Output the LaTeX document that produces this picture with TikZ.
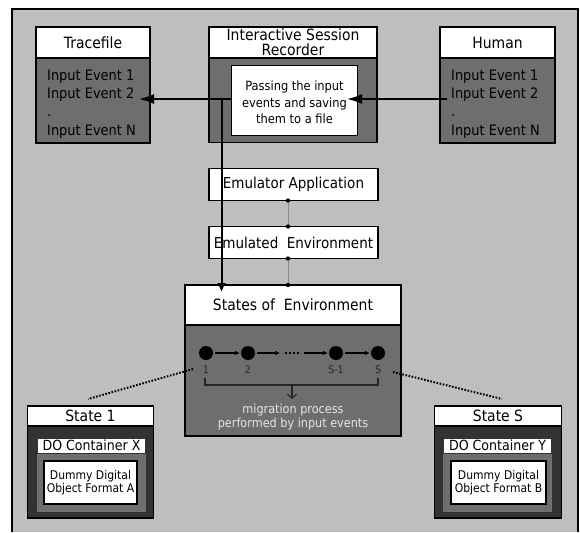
\documentclass[tikz,border=0pt]{standalone}
\usepackage{fontspec}
\setmainfont{DejaVu Sans}[FakeStretch=0.9]
\usetikzlibrary{arrows.meta}
\definecolor{frameg}{HTML}{BEBEBE}
\definecolor{midg}{HTML}{6E6E6E}
\definecolor{darkg}{HTML}{333333}
\definecolor{lightt}{HTML}{E6E6E6}
\definecolor{connc}{HTML}{8A8A8A}
\newcommand\hdrfont{\fontsize{15.5}{17}\selectfont}
\begin{document}
\begin{tikzpicture}[x=1pt,y=-1pt,
  box/.style={draw=black, line width=1.8pt, inner sep=0pt, outer sep=0pt},
  evt/.style={align=left, inner sep=0pt, font=\fontsize{14.4}{18.3}\selectfont},
  bigarr/.style={line width=1.8pt, -{Latex[length=15pt,width=10pt]}},
  varr/.style={line width=2pt, -{Latex[length=9pt,width=9pt]}},
  conn/.style={draw=connc, line width=0.8pt},
  chaindot/.style={circle, fill=black, minimum size=14pt, inner sep=0pt},
  lbl/.style={inner sep=0pt, text=black!85, font=\fontsize{10.5}{11}\selectfont},
  smarr/.style={line width=1.2pt, -{Latex[length=5pt,width=5pt]}, shorten <=2pt, shorten >=1pt},
  brk/.style={line width=1.2pt, draw=black!85},
  dotl/.style={line width=2pt, dash pattern=on 1.6pt off 1.6pt},
  mig/.style={align=center, inner sep=0pt, text=lightt, font=\fontsize{12.5}{14}\selectfont}
]
\useasboundingbox (0,0) rectangle (580,532);
\fill[frameg] (12,9) rectangle (578,532);
\draw[line width=2pt] (12,532) -- (12,9) -- (578,9) -- (578,532);

% Tracefile
\node[box, fill=midg, minimum width=114pt, minimum height=85pt] (traceb) at (93,100.5) {};
\node[box, fill=white, minimum width=114pt, minimum height=31pt, font=\hdrfont] (traceh) at (93,42.5) {Tracefile};
\node[evt, anchor=west] (tracet) at (47,104) {Input Event 1\\Input Event 2\\.\\Input Event N};

% Recorder
\node[box, fill=midg, minimum width=168pt, minimum height=84pt] (recb) at (293,100.5) {};
\node[box, fill=white, minimum width=168pt, minimum height=31pt, align=center, font=\fontsize{15.5}{15}\selectfont] (rech) at (293,42.5) {Interactive Session\\Recorder};
\node[box, line width=1.5pt, fill=white, minimum width=126pt, minimum height=70pt] (pass) at (294.5,100.5) {};
\node[align=center, inner sep=0pt, font=\fontsize{12.7}{16.7}\selectfont] (passt) at (294.5,102.5) {Passing the input\\events and saving\\them to a file};

% Human
\node[box, fill=midg, minimum width=115pt, minimum height=85pt] (humb) at (497.5,100.5) {};
\node[box, fill=white, minimum width=115pt, minimum height=31pt, font=\hdrfont] (humh) at (497.5,42.5) {Human};
\node[evt, anchor=west] (humt) at (451,104) {Input Event 1\\Input Event 2\\.\\Input Event N};

% Emulator boxes
\node[box, fill=white, minimum width=169pt, minimum height=32pt, font=\fontsize{15}{17}\selectfont] (emuapp) at (293.5,184.5) {Emulator Application};
\node[box, fill=white, minimum width=169pt, minimum height=32pt, font=\fontsize{15}{17}\selectfont] (emuenv) at (293.5,242.5) {Emulated~ Environment};

% States of Environment
\node[box, line width=2.5pt, fill=midg, minimum width=216pt, minimum height=111pt] (stateb) at (293,380.5) {};
\node[box, line width=2.5pt, fill=white, minimum width=216pt, minimum height=40pt, font=\hdrfont] (stateh) at (293,305) {States of~ Environment};

% connectors between emulator boxes
\draw[conn] ([xshift=-5.5pt]emuapp.south) -- ([xshift=-5.5pt]emuenv.north);
\draw[conn] ([xshift=-5.5pt]emuenv.south) -- ([xshift=-5pt]stateh.north);
\fill ([xshift=-5.5pt]emuapp.south) circle (2.2pt);
\fill ([xshift=-5.5pt]emuenv.north) circle (2.2pt);
\fill ([xshift=-5.5pt]emuenv.south) circle (2.2pt);
\fill ([xshift=-5pt]stateh.north) circle (2.2pt);

% chain of states
\node[chaindot] (s1) at (206,353) {};
\node[chaindot] (s2) at (248,353) {};
\node[chaindot] (s3) at (336,353) {};
\node[chaindot] (s4) at (378,353) {};
\node[lbl] (l1) at (206,370) {1};
\node[lbl] (l2) at (248,370) {2};
\node[lbl] (l3) at (336,370) {S-1};
\node[lbl] (l4) at (378,370) {S};
\coordinate (m1) at (281,353);
\coordinate (m2) at (285,353);
\coordinate (m3) at (300,353);
\coordinate (m4) at (302,353);
\draw[smarr] (s1) -- (s2);
\draw[smarr] (s2) -- (m1);
\draw[line width=1.6pt, dash pattern=on 1.6pt off 2.4pt] (m2) -- (m3);
\draw[smarr] (m4) -- (s3);
\draw[smarr] (s3) -- (s4);
\draw[brk] (205,378) -- (205,385) -- (378,385) -- (378,378);
\coordinate (b1) at (292,385);
\coordinate (b2) at (292,399);
\draw[brk, -{Straight Barb[length=4pt,width=9pt]}] (b1) -- (b2);
\node[mig] (migt) at (293,417) {migration process\\performed by input events};

% State 1
\node[box, line width=1.2pt, fill=darkg, minimum width=126pt, minimum height=92pt] (st1b) at (90.5,472) {};
\node[box, line width=1.2pt, fill=white, minimum width=126pt, minimum height=20pt, font=\hdrfont] (st1h) at (90.5,416) {State 1};
\node[box, draw=black!55, line width=1pt, fill=midg, minimum width=108pt, minimum height=58pt] (doxb) at (91.5,482) {};
\node[box, draw=darkg, line width=1pt, fill=white, minimum width=108pt, minimum height=15pt, font=\fontsize{14}{15}\selectfont] (doxh) at (91.5,445.5) {DO Container X};
\node[box, line width=2.5pt, fill=white, minimum width=93pt, minimum height=43pt, align=center, font=\fontsize{12}{13.3}\selectfont] (duma) at (90.5,482.5) {Dummy Digital\\Object Format A};

% State S
\node[box, line width=1.2pt, fill=darkg, minimum width=127pt, minimum height=92pt] (stsb) at (498,472) {};
\node[box, line width=1.2pt, fill=white, minimum width=127pt, minimum height=20pt, font=\hdrfont] (stsh) at (498,416) {State S};
\node[box, draw=black!55, line width=1pt, fill=midg, minimum width=108pt, minimum height=58pt] (doyb) at (497.5,482) {};
\node[box, draw=darkg, line width=1pt, fill=white, minimum width=108pt, minimum height=15pt, font=\fontsize{14}{15}\selectfont] (doyh) at (497.5,445.5) {DO Container Y};
\node[box, line width=2.5pt, fill=white, minimum width=95pt, minimum height=43pt, align=center, font=\fontsize{12}{13.3}\selectfont] (dumb) at (498.5,482.5) {Dummy Digital\\Object Format B};

% dotted links
\coordinate (dl1) at (193,369);
\coordinate (dl2) at (88,399);
\coordinate (dr1) at (393,372);
\coordinate (dr2) at (502,399);
\draw[dotl] (dl1) -- (dl2);
\draw[dotl] (dr1) -- (dr2);

% main arrows
\coordinate (tin) at (139,99);
\coordinate (pout) at (231,99);
\coordinate (hout) at (447,99);
\coordinate (pin) at (347,99);
\coordinate (split) at (221.5,99);
\coordinate (stin) at (221.5,292);
\draw[bigarr] (hout) -- (pin);
\draw[bigarr] (pout) -- (tin);
\draw[varr] (split) -- (stin);
\end{tikzpicture}
\end{document}
